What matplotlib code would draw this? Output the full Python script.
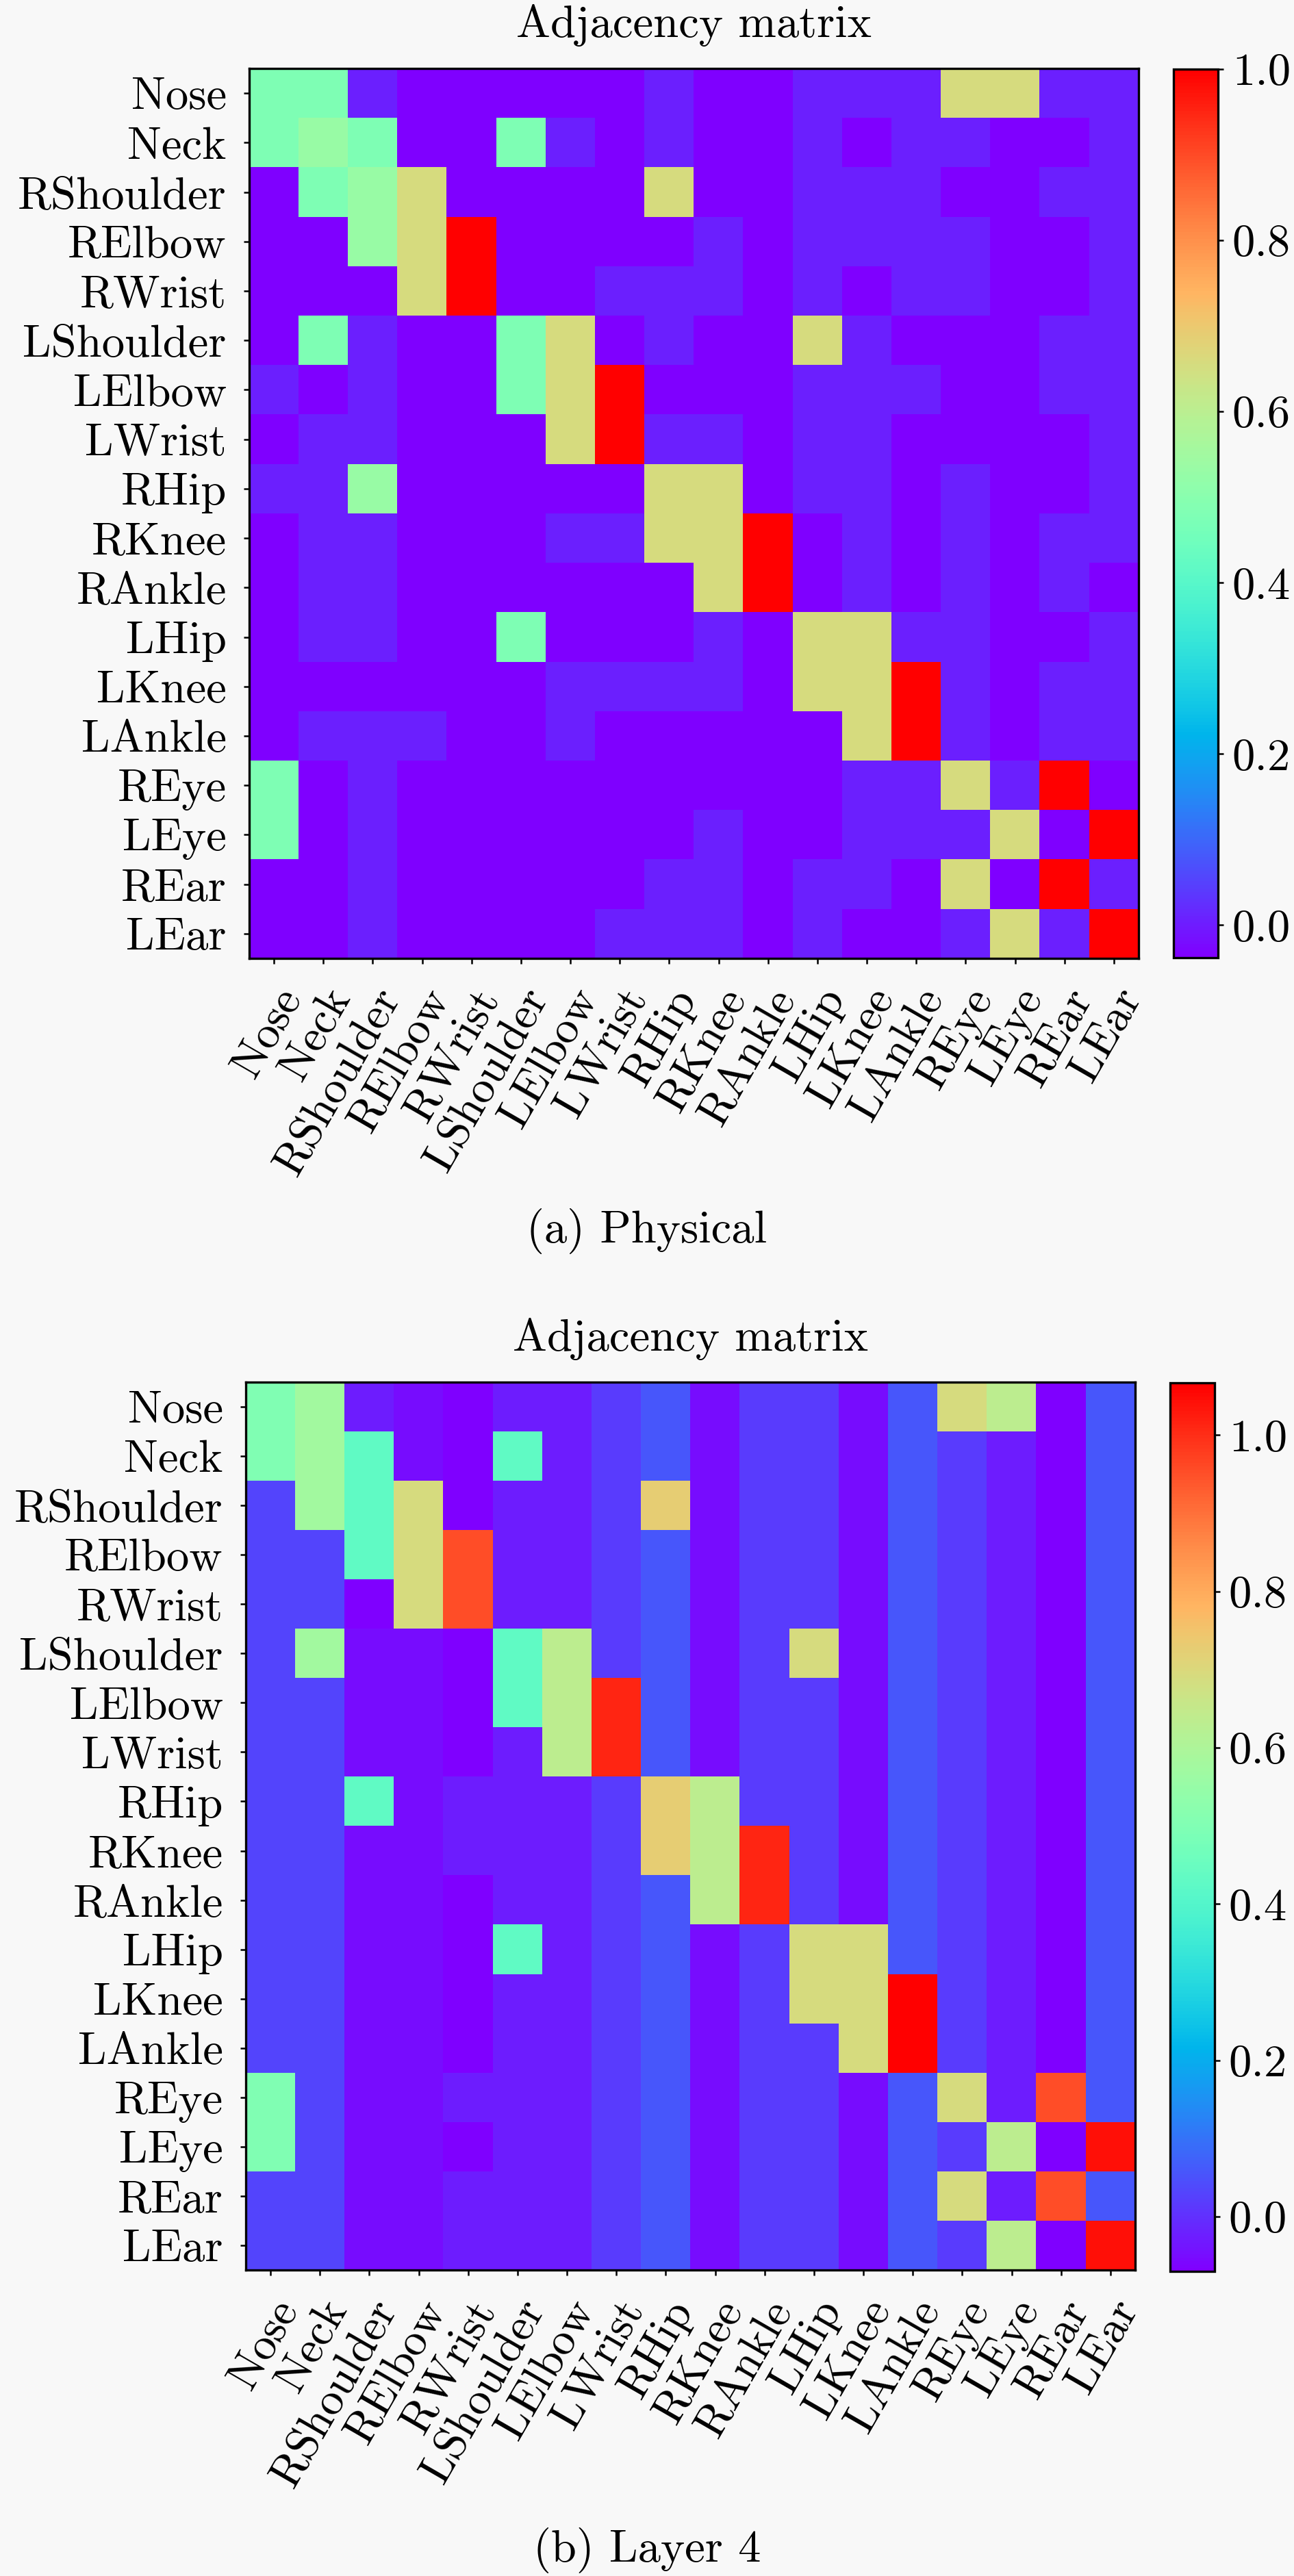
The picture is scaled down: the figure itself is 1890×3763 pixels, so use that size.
import matplotlib
matplotlib.use("Agg")
import matplotlib.pyplot as plt
import numpy as np

plt.rcParams['font.family'] = ['cmr10', 'DejaVu Serif']
plt.rcParams['mathtext.fontset'] = 'cm'
plt.rcParams['axes.formatter.use_mathtext'] = True

joints = ["Nose", "Neck", "RShoulder", "RElbow", "RWrist", "LShoulder", "LElbow",
          "LWrist", "RHip", "RKnee", "RAnkle", "LHip", "LKnee", "LAnkle",
          "REye", "LEye", "REar", "LEar"]

cbar_ticks = [0.0, 0.2, 0.4, 0.6, 0.8, 1.0]
cbar_labels = ["0.0", "0.2", "0.4", "0.6", "0.8", "1.0"]

# (a) Physical: cell codes
phys_levels = {'p': -0.038, 'b': 0.004, 'm': 0.48, 'l': 0.533, 'y': 0.657, 'r': 1.0}
phys_rows = [
    "mmbpppppbppbbbyybb",
    "mlmppmbpbppbpbbppb",
    "pmlyppppyppbbbppbb",
    "pplyrppppbpbbbbppb",
    "pppyrppbbbpbpbbppb",
    "pmbppmypbppybpppbb",
    "bpbppmyrpppbbbppbb",
    "pbbpppyrbbpbbppppb",
    "bblpppppyypbbpbppb",
    "pbbpppbbyyrpbpbpbb",
    "pbbppppppyrpbpbpbp",
    "pbbppmpppbpyybbppb",
    "ppppppbbbbpyyrbpbb",
    "pbbbppbpppppyrbpbb",
    "mpbpppppppppbbybrp",
    "mpbppppppbppbbbypr",
    "ppbpppppbbpbbpyprb",
    "ppbppppbbbpbppbybr",
]

# (b) Layer 4: cell codes
layer_levels = {'P': -0.07, 'V': -0.05, 'R': -0.05, 'Q': -0.03, 'C': 0.015, 'A': 0.03,
                'B': 0.055, 'D': 0.055, 'a': 0.43, 'm': 0.50, 'l': 0.578, 'g': 0.635,
                'y': 0.692, 't': 0.726, 'o': 0.953, 'r': 1.01, 'z': 1.044, 'X': 1.067}
layer_rows = [
    "mlQVPQQCBVCCVDygPD",
    "mlaVPaQCBVCCVDCQPD",
    "AlayPQQCtVCCVDCQPD",
    "AAayoQQCBVCCVDCQPD",
    "AAPyoQQCBVCCVDCQPD",
    "AlRVPagCBVCyVDCQPD",
    "AARVPagrBVCCVDCQPD",
    "AARVPQgrBVCCVDCQPD",
    "AAaVQQQCtgCCVDCQPD",
    "AARVQQQCtgrCVDCQPD",
    "AARVPQQCBgrCVDCQPD",
    "AARVPaQCBVCyyDCQPD",
    "AARVPQQCBVCyyXCQPD",
    "AARVPQQCBVCCyXCQPD",
    "mARVQQQCBVCCVDyQoD",
    "mARVPQQCBVCCVDCgPz",
    "AARVQQQCBVCCVDyQoD",
    "AARVQQQCBVCCVDCgPz",
]

phys = np.array([[phys_levels[c] for c in row] for row in phys_rows])
layer = np.array([[layer_levels[c] for c in row] for row in layer_rows])

BG = '#f8f8f8'
fig = plt.figure(figsize=(6.3, 3763 / 300), dpi=300, facecolor=BG)
W, H = 1890.0, 3763.0

def box(x0, y0, x1, y1):
    return [x0 / W, 1 - y1 / H, (x1 - x0) / W, (y1 - y0) / H]

FS = 16

def draw(mat, axbox, cbox, caption, cap_y):
    ax = fig.add_axes(box(*axbox))
    im = ax.imshow(mat, cmap='rainbow', interpolation='nearest', aspect='auto')
    ax.set_title("Adjacency matrix", fontsize=FS, pad=11)
    ax.set_xticks(range(len(joints)))
    ax.set_yticks(range(len(joints)))
    ax.set_xticklabels(joints, fontsize=FS, rotation=60, ha='right',
                       rotation_mode='anchor')
    ax.set_yticklabels(joints, fontsize=FS)
    ax.tick_params(length=2, width=0.6, pad=6)
    for s in ax.spines.values():
        s.set_linewidth(0.8)
    cax = fig.add_axes(box(*cbox))
    cb = fig.colorbar(im, cax=cax)
    cb.set_ticks(cbar_ticks, labels=cbar_labels)
    cb.ax.tick_params(labelsize=FS, length=2, width=0.6, pad=3)
    cb.outline.set_linewidth(0.8)
    fig.text(0.5, 1 - cap_y / H, caption, ha='center', va='baseline', fontsize=FS)

draw(phys, (364, 100, 1663, 1400), (1714, 101, 1779, 1399), "(a) Physical", 1815)
draw(layer, (359, 2019, 1658, 3316), (1709, 2020, 1774, 3318), "(b) Layer 4", 3742)

fig.savefig("out.png", dpi=300, facecolor=BG)
